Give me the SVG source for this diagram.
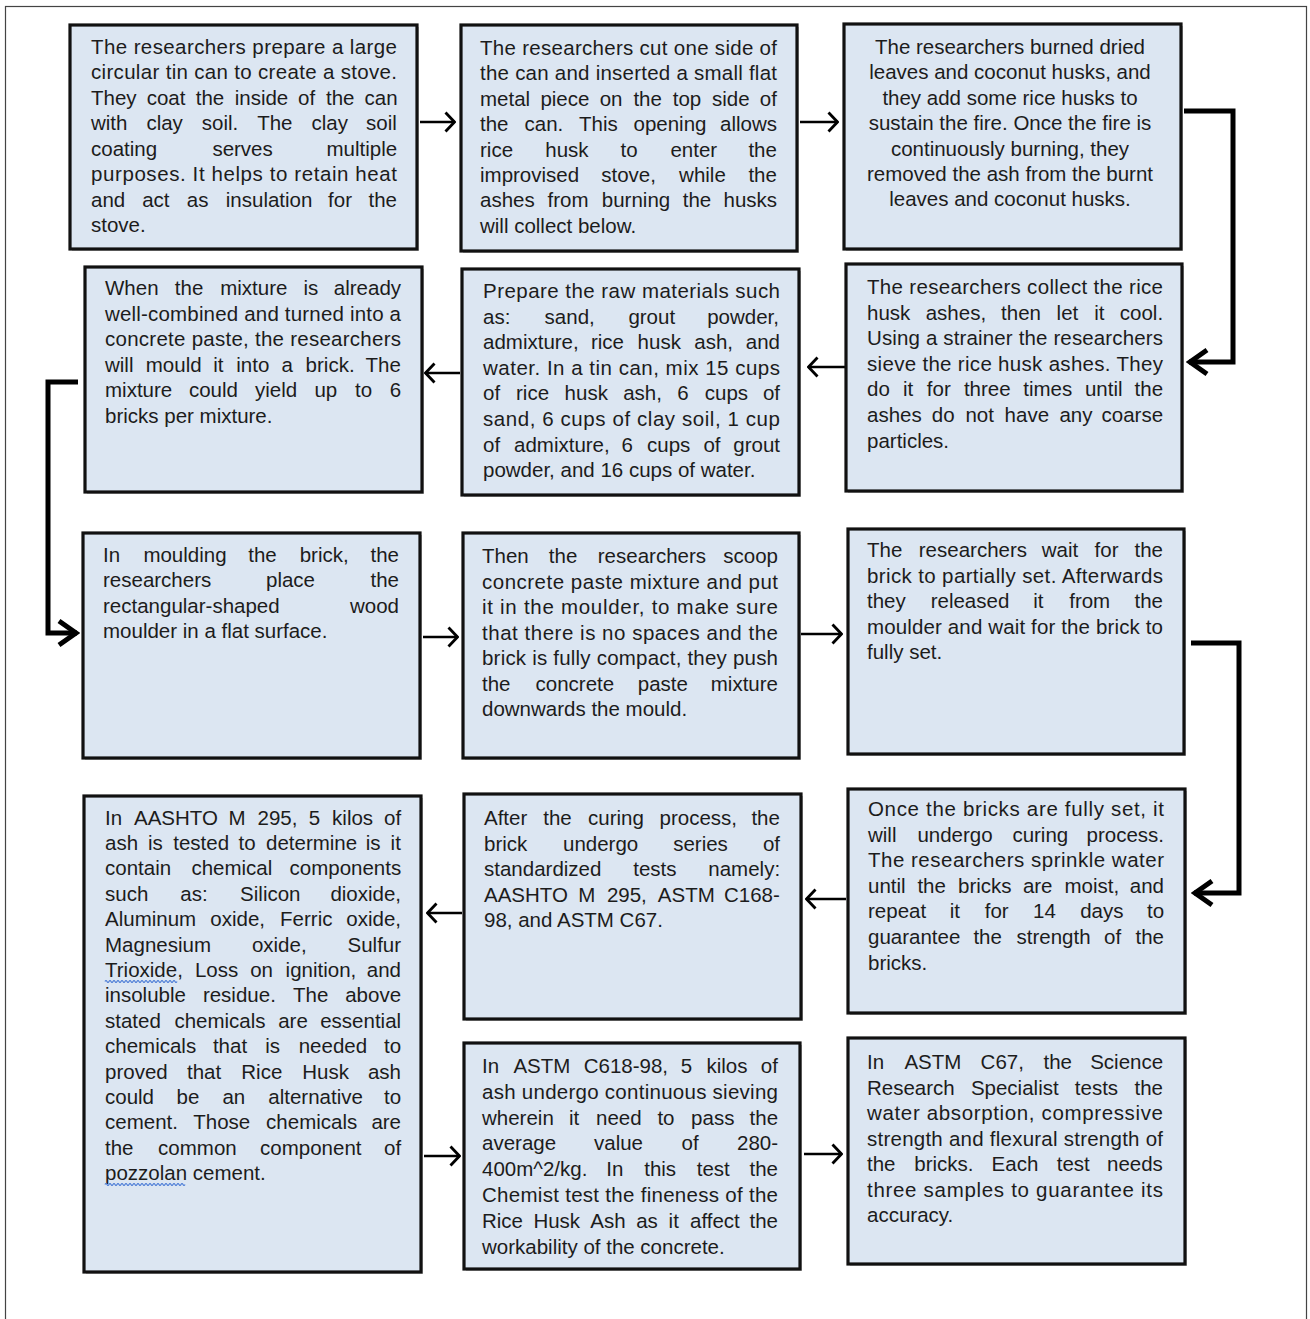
<svg xmlns="http://www.w3.org/2000/svg" width="1310" height="1319" viewBox="0 0 1310 1319">
<style>
.box{fill:#dce6f2;stroke:#111;stroke-width:3.2}
.sh{fill:#777;opacity:.45}
.t{font-family:"Liberation Sans",Arial,sans-serif;font-size:20.5px;fill:#1c1c1c}
.c{text-anchor:middle}
.ln{fill:none;stroke:#000;stroke-width:2.6}
.lt{fill:none;stroke:#000;stroke-width:5}
.wv{fill:none;stroke:#4a7bd6;stroke-width:1.2}
</style>
<defs>
<marker id="ah" markerUnits="userSpaceOnUse" viewBox="0 0 12 22" refX="11" refY="11" markerWidth="12" markerHeight="22" orient="auto">
<path d="M1.5,1.5 L10.5,11 L1.5,20.5" fill="none" stroke="#000" stroke-width="2.8"/>
</marker>
<marker id="ahb" markerUnits="userSpaceOnUse" viewBox="0 0 24 30" refX="21" refY="15" markerWidth="24" markerHeight="30" orient="auto">
<path d="M3,3 L20,15 L3,27" fill="none" stroke="#000" stroke-width="5"/>
</marker>
</defs>
<rect x="0" y="0" width="1310" height="1319" fill="#fff"/>
<rect x="5.5" y="6.5" width="1301" height="1340" fill="none" stroke="#444" stroke-width="1.2"/>

<g id="connectors">
<path class="ln" d="M420,122 H455" marker-end="url(#ah)"/>
<path class="ln" d="M800,122 H838" marker-end="url(#ah)"/>
<path class="lt" d="M1184,111 H1233 V362 H1189" marker-end="url(#ahb)"/>
<path class="ln" d="M845,367 H808" marker-end="url(#ah)"/>
<path class="ln" d="M460,373 H425" marker-end="url(#ah)"/>
<path class="lt" d="M78,382 H48 V633 H77" marker-end="url(#ahb)"/>
<path class="ln" d="M423,637 H458" marker-end="url(#ah)"/>
<path class="ln" d="M801,634 H842" marker-end="url(#ah)"/>
<path class="lt" d="M1191,643 H1239 V893 H1194" marker-end="url(#ahb)"/>
<path class="ln" d="M846,899 H806" marker-end="url(#ah)"/>
<path class="ln" d="M462,913 H427" marker-end="url(#ah)"/>
<path class="ln" d="M424,1156 H460" marker-end="url(#ah)"/>
<path class="ln" d="M804,1154 H842" marker-end="url(#ah)"/>
</g>

<g id="nodeA">
<rect class="sh" x="72" y="27" width="347" height="224"/>
<rect class="box" x="70" y="25" width="347" height="224"/>
<text class="t" x="91" y="53.5" textLength="306" lengthAdjust="spacing">The researchers prepare a large</text>
<text class="t" x="91" y="79" textLength="306" lengthAdjust="spacing">circular tin can to create a stove.</text>
<text class="t" y="104.5"><tspan x="91">They </tspan><tspan x="146.7">coat </tspan><tspan x="195.7">the </tspan><tspan x="234.7">inside </tspan><tspan x="298.1">of </tspan><tspan x="326">the </tspan><tspan x="364.5">can</tspan></text>
<text class="t" y="130"><tspan x="91">with </tspan><tspan x="146.4">clay </tspan><tspan x="201.8">soil. </tspan><tspan x="257.2">The </tspan><tspan x="311.5">clay </tspan><tspan x="366">soil</tspan></text>
<text class="t" y="155.5"><tspan x="91">coating </tspan><tspan x="212.4">serves </tspan><tspan x="326.5">multiple</tspan></text>
<text class="t" x="91" y="181" textLength="306" lengthAdjust="spacing">purposes. It helps to retain heat</text>
<text class="t" y="206.5"><tspan x="91">and </tspan><tspan x="142.2">act </tspan><tspan x="186.8">as </tspan><tspan x="225.8">insulation </tspan><tspan x="328.1">for </tspan><tspan x="368.5">the</tspan></text>
<text class="t" x="91" y="232">stove.</text>
</g>

<g id="nodeB">
<rect class="sh" x="463" y="27" width="336" height="226"/>
<rect class="box" x="461" y="25" width="336" height="226"/>
<text class="t" x="480" y="55" textLength="297" lengthAdjust="spacing">The researchers cut one side of</text>
<text class="t" x="480" y="80.4" textLength="297" lengthAdjust="spacing">the can and inserted a small flat</text>
<text class="t" y="105.8"><tspan x="480">metal </tspan><tspan x="540.4">piece </tspan><tspan x="599.7">on </tspan><tspan x="633.4">the </tspan><tspan x="672.7">top </tspan><tspan x="712">side </tspan><tspan x="759.8">of</tspan></text>
<text class="t" y="131.2"><tspan x="480">the </tspan><tspan x="524.5">can. </tspan><tspan x="579">This </tspan><tspan x="633.5">opening </tspan><tspan x="720">allows</tspan></text>
<text class="t" y="156.6"><tspan x="480">rice </tspan><tspan x="545.3">husk </tspan><tspan x="620.6">to </tspan><tspan x="670.4">enter </tspan><tspan x="748.4">the</tspan></text>
<text class="t" y="182"><tspan x="480">improvised </tspan><tspan x="601.2">stove, </tspan><tspan x="679.1">while </tspan><tspan x="748.4">the</tspan></text>
<text class="t" y="207.4"><tspan x="480">ashes </tspan><tspan x="547.6">from </tspan><tspan x="601.8">burning </tspan><tspan x="682.7">the </tspan><tspan x="723.5">husks</tspan></text>
<text class="t" x="480" y="232.8">will collect below.</text>
</g>

<g id="nodeC">
<rect class="sh" x="846" y="26" width="337" height="225"/>
<rect class="box" x="844" y="24" width="337" height="225"/>
<text class="t c" x="1010" y="54">The researchers burned dried</text>
<text class="t c" x="1010" y="79.4">leaves and coconut husks, and</text>
<text class="t c" x="1010" y="104.8">they add some rice husks to</text>
<text class="t c" x="1010" y="130.2">sustain the fire. Once the fire is</text>
<text class="t c" x="1010" y="155.6">continuously burning, they</text>
<text class="t c" x="1010" y="181">removed the ash from the burnt</text>
<text class="t c" x="1010" y="206.4">leaves and coconut husks.</text>
</g>

<g id="nodeF">
<rect class="sh" x="848" y="266" width="336" height="227"/>
<rect class="box" x="846" y="264" width="336" height="227"/>
<text class="t" x="867" y="294" textLength="296" lengthAdjust="spacing">The researchers collect the rice</text>
<text class="t" y="319.6"><tspan x="867">husk </tspan><tspan x="925.7">ashes, </tspan><tspan x="1001.1">then </tspan><tspan x="1056.6">let </tspan><tspan x="1094.2">it </tspan><tspan x="1119.8">cool.</tspan></text>
<text class="t" x="867" y="345.2" textLength="296" lengthAdjust="spacing">Using a strainer the researchers</text>
<text class="t" x="867" y="370.8" textLength="296" lengthAdjust="spacing">sieve the rice husk ashes. They</text>
<text class="t" y="396.4"><tspan x="867">do </tspan><tspan x="903">it </tspan><tspan x="926.8">for </tspan><tspan x="963.9">three </tspan><tspan x="1023.3">times </tspan><tspan x="1084.9">until </tspan><tspan x="1134.6">the</tspan></text>
<text class="t" y="422"><tspan x="867">ashes </tspan><tspan x="931.8">do </tspan><tspan x="965.4">not </tspan><tspan x="1004.6">have </tspan><tspan x="1059.4">any </tspan><tspan x="1101.5">coarse</tspan></text>
<text class="t" x="867" y="447.6">particles.</text>
</g>

<g id="nodeE">
<rect class="sh" x="464" y="271" width="337" height="226"/>
<rect class="box" x="462" y="269" width="337" height="226"/>
<text class="t" x="483" y="298" textLength="297" lengthAdjust="spacing">Prepare the raw materials such</text>
<text class="t" y="323.6"><tspan x="483">as: </tspan><tspan x="544.6">sand, </tspan><tspan x="628.4">grout </tspan><tspan x="707.2">powder,</tspan></text>
<text class="t" y="349.2"><tspan x="483">admixture, </tspan><tspan x="590.9">rice </tspan><tspan x="637.6">husk </tspan><tspan x="694.3">ash, </tspan><tspan x="745.8">and</tspan></text>
<text class="t" x="483" y="374.8" textLength="297" lengthAdjust="spacing">water. In a tin can, mix 15 cups</text>
<text class="t" y="400.4"><tspan x="483">of </tspan><tspan x="516">rice </tspan><tspan x="564.6">husk </tspan><tspan x="623.2">ash, </tspan><tspan x="677.3">6 </tspan><tspan x="704.8">cups </tspan><tspan x="762.9">of</tspan></text>
<text class="t" x="483" y="426" textLength="297" lengthAdjust="spacing">sand, 6 cups of clay soil, 1 cup</text>
<text class="t" y="451.6"><tspan x="483">of </tspan><tspan x="514">admixture, </tspan><tspan x="621.6">6 </tspan><tspan x="647">cups </tspan><tspan x="703.4">of </tspan><tspan x="733.3">grout</tspan></text>
<text class="t" x="483" y="477.2">powder, and 16 cups of water.</text>
</g>

<g id="nodeD">
<rect class="sh" x="87" y="269" width="337" height="225"/>
<rect class="box" x="85" y="267" width="337" height="225"/>
<text class="t" y="295"><tspan x="105">When </tspan><tspan x="174.8">the </tspan><tspan x="220.2">mixture </tspan><tspan x="303.4">is </tspan><tspan x="333.8">already</tspan></text>
<text class="t" x="105" y="320.6" textLength="296" lengthAdjust="spacing">well-combined and turned into a</text>
<text class="t" x="105" y="346.2" textLength="296" lengthAdjust="spacing">concrete paste, the researchers</text>
<text class="t" y="371.8"><tspan x="105">will </tspan><tspan x="145.8">mould </tspan><tspan x="213.3">it </tspan><tspan x="236.3">into </tspan><tspan x="281.5">a </tspan><tspan x="305.6">brick. </tspan><tspan x="365.5">The</tspan></text>
<text class="t" y="397.4"><tspan x="105">mixture </tspan><tspan x="188.9">could </tspan><tspan x="255">yield </tspan><tspan x="314.4">up </tspan><tspan x="355">to </tspan><tspan x="389.7">6</tspan></text>
<text class="t" x="105" y="423">bricks per mixture.</text>
</g>

<g id="nodeG">
<rect class="sh" x="85" y="535" width="337" height="225"/>
<rect class="box" x="83" y="533" width="337" height="225"/>
<text class="t" y="562"><tspan x="103">In </tspan><tspan x="143.4">moulding </tspan><tspan x="248.2">the </tspan><tspan x="299.7">brick, </tspan><tspan x="370.5">the</tspan></text>
<text class="t" y="587.4"><tspan x="103">researchers </tspan><tspan x="266">place </tspan><tspan x="370.5">the</tspan></text>
<text class="t" y="612.8"><tspan x="103">rectangular-shaped </tspan><tspan x="350">wood</tspan></text>
<text class="t" x="103" y="638.2">moulder in a flat surface.</text>
</g>

<g id="nodeH">
<rect class="sh" x="465" y="535" width="336" height="225"/>
<rect class="box" x="463" y="533" width="336" height="225"/>
<text class="t" y="563"><tspan x="482">Then </tspan><tspan x="548.8">the </tspan><tspan x="597.8">researchers </tspan><tspan x="723.3">scoop</tspan></text>
<text class="t" x="482" y="588.5" textLength="296" lengthAdjust="spacing">concrete paste mixture and put</text>
<text class="t" x="482" y="614" textLength="296" lengthAdjust="spacing">it in the moulder, to make sure</text>
<text class="t" x="482" y="639.5" textLength="296" lengthAdjust="spacing">that there is no spaces and the</text>
<text class="t" x="482" y="665" textLength="296" lengthAdjust="spacing">brick is fully compact, they push</text>
<text class="t" y="690.5"><tspan x="482">the </tspan><tspan x="535.5">concrete </tspan><tspan x="637.8">paste </tspan><tspan x="710.8">mixture</tspan></text>
<text class="t" x="482" y="716">downwards the mould.</text>
</g>

<g id="nodeI">
<rect class="sh" x="850" y="531" width="336" height="225"/>
<rect class="box" x="848" y="529" width="336" height="225"/>
<text class="t" y="557"><tspan x="867">The </tspan><tspan x="918.8">researchers </tspan><tspan x="1041.7">wait </tspan><tspan x="1094.6">for </tspan><tspan x="1134.5">the</tspan></text>
<text class="t" x="867" y="582.6" textLength="296" lengthAdjust="spacing">brick to partially set. Afterwards</text>
<text class="t" y="608.2"><tspan x="867">they </tspan><tspan x="930.7">released </tspan><tspan x="1033.3">it </tspan><tspan x="1069.2">from </tspan><tspan x="1134.5">the</tspan></text>
<text class="t" x="867" y="633.8" textLength="296" lengthAdjust="spacing">moulder and wait for the brick to</text>
<text class="t" x="867" y="659.4">fully set.</text>
</g>

<g id="nodeL">
<rect class="sh" x="850" y="791" width="337" height="224"/>
<rect class="box" x="848" y="789" width="337" height="224"/>
<text class="t" x="868" y="816" textLength="296" lengthAdjust="spacing">Once the bricks are fully set, it</text>
<text class="t" y="841.6"><tspan x="868">will </tspan><tspan x="917.4">undergo </tspan><tspan x="1012.4">curing </tspan><tspan x="1086.5">process.</tspan></text>
<text class="t" x="868" y="867.2" textLength="296" lengthAdjust="spacing">The researchers sprinkle water</text>
<text class="t" y="892.8"><tspan x="868">until </tspan><tspan x="917.4">the </tspan><tspan x="958">bricks </tspan><tspan x="1022.9">are </tspan><tspan x="1064.5">moist, </tspan><tspan x="1129.8">and</tspan></text>
<text class="t" y="918.4"><tspan x="868">repeat </tspan><tspan x="949.7">it </tspan><tspan x="984.7">for </tspan><tspan x="1033">14 </tspan><tspan x="1080.2">days </tspan><tspan x="1147">to</tspan></text>
<text class="t" y="944"><tspan x="868">guarantee </tspan><tspan x="973.4">the </tspan><tspan x="1016.5">strength </tspan><tspan x="1104.1">of </tspan><tspan x="1135.5">the</tspan></text>
<text class="t" x="868" y="969.6">bricks.</text>
</g>

<g id="nodeK">
<rect class="sh" x="466" y="796" width="337" height="225"/>
<rect class="box" x="464" y="794" width="337" height="225"/>
<text class="t" y="825"><tspan x="484">After </tspan><tspan x="543.2">the </tspan><tspan x="588">curing </tspan><tspan x="659.5">process, </tspan><tspan x="751.4">the</tspan></text>
<text class="t" y="850.5"><tspan x="484">brick </tspan><tspan x="563">undergo </tspan><tspan x="673.2">series </tspan><tspan x="762.9">of</tspan></text>
<text class="t" y="876"><tspan x="484">standardized </tspan><tspan x="633.2">tests </tspan><tspan x="708.3">namely:</tspan></text>
<text class="t" y="901.5"><tspan x="484">AASHTO </tspan><tspan x="578.2">M </tspan><tspan x="606.9">295, </tspan><tspan x="657.8">ASTM </tspan><tspan x="724">C168-</tspan></text>
<text class="t" x="484" y="927">98, and ASTM C67.</text>
</g>

<g id="nodeJ">
<rect class="sh" x="86" y="798" width="337" height="476"/>
<rect class="box" x="84" y="796" width="337" height="476"/>
<text class="t" y="824.5"><tspan x="105">In </tspan><tspan x="134">AASHTO </tspan><tspan x="228.5">M </tspan><tspan x="257.5">295, </tspan><tspan x="308.7">5 </tspan><tspan x="332.1">kilos </tspan><tspan x="384">of</tspan></text>
<text class="t" y="849.9"><tspan x="105">ash </tspan><tspan x="148">is </tspan><tspan x="173.2">tested </tspan><tspan x="238.5">to </tspan><tspan x="266">determine </tspan><tspan x="365.7">is </tspan><tspan x="390.6">it</tspan></text>
<text class="t" y="875.3"><tspan x="105">contain </tspan><tspan x="191.4">chemical </tspan><tspan x="289.5">components</tspan></text>
<text class="t" y="900.7"><tspan x="105">such </tspan><tspan x="180.3">as: </tspan><tspan x="240.1">Silicon </tspan><tspan x="330.4">dioxide,</tspan></text>
<text class="t" y="926.1"><tspan x="105">Aluminum </tspan><tspan x="210.3">oxide, </tspan><tspan x="280.1">Ferric </tspan><tspan x="346.3">oxide,</tspan></text>
<text class="t" y="951.5"><tspan x="105">Magnesium </tspan><tspan x="251.9">oxide, </tspan><tspan x="347.5">Sulfur</tspan></text>
<text class="t" y="976.9"><tspan x="105">Trioxide, </tspan><tspan x="194.9">Loss </tspan><tspan x="250.2">on </tspan><tspan x="285.6">ignition, </tspan><tspan x="366.8">and</tspan></text>
<text class="t" y="1002.3"><tspan x="105">insoluble </tspan><tspan x="202.9">residue. </tspan><tspan x="293">The </tspan><tspan x="345.2">above</tspan></text>
<text class="t" y="1027.7"><tspan x="105">stated </tspan><tspan x="174.4">chemicals </tspan><tspan x="278.2">are </tspan><tspan x="320.2">essential</tspan></text>
<text class="t" y="1053.1"><tspan x="105">chemicals </tspan><tspan x="212.9">that </tspan><tspan x="265.3">is </tspan><tspan x="298.7">needed </tspan><tspan x="384">to</tspan></text>
<text class="t" y="1078.5"><tspan x="105">proved </tspan><tspan x="187">that </tspan><tspan x="241.3">Rice </tspan><tspan x="302.2">Husk </tspan><tspan x="367.9">ash</tspan></text>
<text class="t" y="1103.9"><tspan x="105">could </tspan><tspan x="176.5">be </tspan><tspan x="222.4">an </tspan><tspan x="268.3">alternative </tspan><tspan x="384">to</tspan></text>
<text class="t" y="1129.3"><tspan x="105">cement. </tspan><tspan x="193.3">Those </tspan><tspan x="266.1">chemicals </tspan><tspan x="371.4">are</tspan></text>
<text class="t" y="1154.7"><tspan x="105">the </tspan><tspan x="158.1">common </tspan><tspan x="260.1">component </tspan><tspan x="384">of</tspan></text>
<text class="t" x="105" y="1180.1">pozzolan cement.</text>
<path class="wv" d="M105,981.5 q1,-2 2,0 t2,0 t2,0 t2,0 t2,0 t2,0 t2,0 t2,0 t2,0 t2,0 t2,0 t2,0 t2,0 t2,0 t2,0 t2,0 t2,0 t2,0 t2,0 t2,0 t2,0 t2,0 t2,0 t2,0 t2,0 t2,0 t2,0 t2,0 t2,0 t2,0 t2,0 t2,0 t2,0 t2,0 t2,0 t2,0"/>
<path class="wv" d="M105,1184.5 q1,-2 2,0 t2,0 t2,0 t2,0 t2,0 t2,0 t2,0 t2,0 t2,0 t2,0 t2,0 t2,0 t2,0 t2,0 t2,0 t2,0 t2,0 t2,0 t2,0 t2,0 t2,0 t2,0 t2,0 t2,0 t2,0 t2,0 t2,0 t2,0 t2,0 t2,0 t2,0 t2,0 t2,0 t2,0 t2,0 t2,0 t2,0 t2,0 t2,0 t2,0"/>
</g>

<g id="nodeM">
<rect class="sh" x="466" y="1045" width="336" height="226"/>
<rect class="box" x="464" y="1043" width="336" height="226"/>
<text class="t" y="1073"><tspan x="482">In </tspan><tspan x="513.4">ASTM </tspan><tspan x="583.7">C618-98, </tspan><tspan x="680.7">5 </tspan><tspan x="706.5">kilos </tspan><tspan x="760.8">of</tspan></text>
<text class="t" x="482" y="1098.8" textLength="296" lengthAdjust="spacing">ash undergo continuous sieving</text>
<text class="t" y="1124.6"><tspan x="482">wherein </tspan><tspan x="569">it </tspan><tspan x="596">need </tspan><tspan x="657.4">to </tspan><tspan x="691.1">pass </tspan><tspan x="749.6">the</tspan></text>
<text class="t" y="1150.4"><tspan x="482">average </tspan><tspan x="594">value </tspan><tspan x="681.5">of </tspan><tspan x="737">280-</tspan></text>
<text class="t" y="1176.2"><tspan x="482">400m^2/kg. </tspan><tspan x="606.2">In </tspan><tspan x="644.2">this </tspan><tspan x="696.7">test </tspan><tspan x="749.5">the</tspan></text>
<text class="t" x="482" y="1202" textLength="296" lengthAdjust="spacing">Chemist test the fineness of the</text>
<text class="t" y="1227.8"><tspan x="482">Rice </tspan><tspan x="533.4">Husk </tspan><tspan x="590.3">Ash </tspan><tspan x="636.2">as </tspan><tspan x="668.6">it </tspan><tspan x="690">affect </tspan><tspan x="749.5">the</tspan></text>
<text class="t" x="482" y="1253.6">workability of the concrete.</text>
</g>

<g id="nodeN">
<rect class="sh" x="850" y="1040" width="337" height="226"/>
<rect class="box" x="848" y="1038" width="337" height="226"/>
<text class="t" y="1069"><tspan x="867">In </tspan><tspan x="904.4">ASTM </tspan><tspan x="980.6">C67, </tspan><tspan x="1043.5">the </tspan><tspan x="1090.2">Science</tspan></text>
<text class="t" y="1094.5"><tspan x="867">Research </tspan><tspan x="970.9">Specialist </tspan><tspan x="1074.8">tests </tspan><tspan x="1134.5">the</tspan></text>
<text class="t" x="867" y="1120" textLength="296" lengthAdjust="spacing">water absorption, compressive</text>
<text class="t" x="867" y="1145.5" textLength="296" lengthAdjust="spacing">strength and flexural strength of</text>
<text class="t" y="1171"><tspan x="867">the </tspan><tspan x="914.3">bricks. </tspan><tspan x="991.6">Each </tspan><tspan x="1056.7">test </tspan><tspan x="1107">needs</tspan></text>
<text class="t" x="867" y="1196.5" textLength="296" lengthAdjust="spacing">three samples to guarantee its</text>
<text class="t" x="867" y="1222">accuracy.</text>
</g>
</svg>
